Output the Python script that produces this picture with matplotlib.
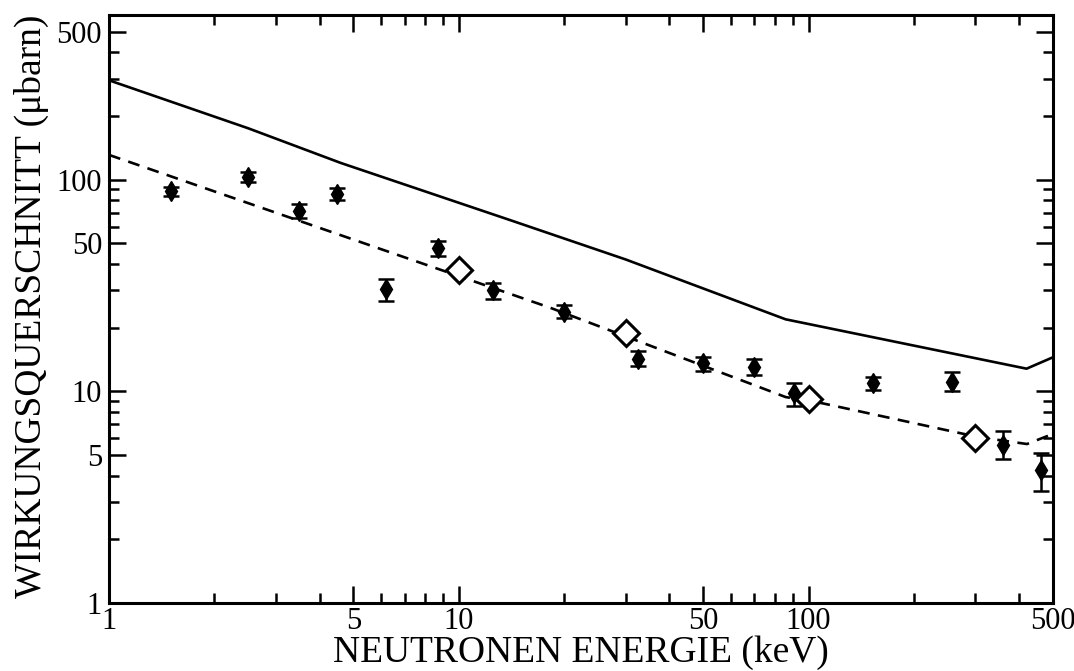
import matplotlib
matplotlib.use("Agg")
import matplotlib.pyplot as plt
from matplotlib.ticker import FixedLocator, NullFormatter, FixedFormatter

plt.rcParams['font.family'] = ['Liberation Serif', 'DejaVu Serif']

# measured points (keV, microbarn)
meas_e = [1.5, 2.5, 3.5, 4.5, 6.2, 8.7, 12.5, 20, 32.6, 50, 70, 91, 153, 257, 359, 463]
meas_v = [88.6, 103, 71.3, 86, 30.3, 47.4, 30.1, 23.8, 14.3, 13.6, 13.1, 9.8, 10.9, 11.1, 5.6, 4.25]
meas_lo = [4.6, 5.0, 5.0, 6.0, 3.5, 3.8, 2.8, 1.6, 1.1, 1.1, 1.2, 1.25, 0.8, 1.1, 0.8, 0.85]
meas_hi = [4.1, 5.5, 5.2, 5.8, 3.7, 4.1, 2.5, 1.8, 1.2, 1.0, 1.1, 1.2, 0.8, 1.2, 0.9, 0.85]

# open diamonds
calc_e = [10, 30, 100, 300]
calc_v = [37.5, 18.9, 9.2, 6.05]

# solid curve
solid_e = [1, 2.5, 4.6, 14, 30, 86, 420, 500]
solid_v = [295, 175, 120, 64.5, 42, 21.9, 12.8, 14.5]

# dashed curve
dash_e = [1, 18.3, 86, 109, 306, 421, 500]
dash_v = [131, 24.8, 9.4, 8.8, 6.08, 5.64, 6.3]

fig = plt.figure(figsize=(10.74, 6.71), dpi=100)
ax = fig.add_axes([0.1015, 0.1013, 0.879, 0.8763])

ax.plot(solid_e, solid_v, 'k-', lw=1.9)
ax.plot(dash_e, dash_v, 'k', lw=1.9, linestyle=(0, (4.5, 3.2)))
ax.errorbar(meas_e, meas_v, yerr=[meas_lo, meas_hi], fmt='kd', ms=10,
            capsize=5.5, elinewidth=1.8, capthick=1.8)
ax.plot(calc_e, calc_v, 'D', ms=13, mfc='white', mec='black', mew=2.2)

ax.set_xscale('log')
ax.set_yscale('log')
ax.set_xlim(1, 500)
ax.set_ylim(1, 600)

xt = [1, 5, 10, 50, 100, 500]
ax.xaxis.set_major_locator(FixedLocator(xt))
ax.xaxis.set_major_formatter(FixedFormatter([str(t) for t in xt]))
xm = [2, 3, 4, 6, 7, 8, 9, 20, 30, 40, 60, 70, 80, 90, 200, 300, 400]
ax.xaxis.set_minor_locator(FixedLocator(xm))
ax.xaxis.set_minor_formatter(NullFormatter())

yt = [1, 5, 10, 50, 100, 500]
ax.yaxis.set_major_locator(FixedLocator(yt))
ax.yaxis.set_major_formatter(FixedFormatter([str(t) for t in yt]))
ym = [2, 3, 4, 6, 7, 8, 9, 20, 30, 40, 60, 70, 80, 90, 200, 300, 400]
ax.yaxis.set_minor_locator(FixedLocator(ym))
ax.yaxis.set_minor_formatter(NullFormatter())

ax.tick_params(which='both', direction='in', top=True, right=True, width=1.8,
               labelsize=22, pad=5)
ax.tick_params(axis='x', pad=3)
ax.tick_params(which='major', length=12)
ax.tick_params(which='minor', length=7)
for s in ax.spines.values():
    s.set_linewidth(2.2)

ax.set_xlabel('NEUTRONEN ENERGIE (keV)', fontsize=27, va='bottom')
ax.xaxis.set_label_coords(0.5405, 0.002, transform=fig.transFigure)
ax.set_ylabel('WIRKUNGSQUERSCHNITT (\u03bcbarn)', fontsize=27)
ax.yaxis.set_label_coords(-0.064, 0.505)

fig.savefig('out.png', dpi=100)
